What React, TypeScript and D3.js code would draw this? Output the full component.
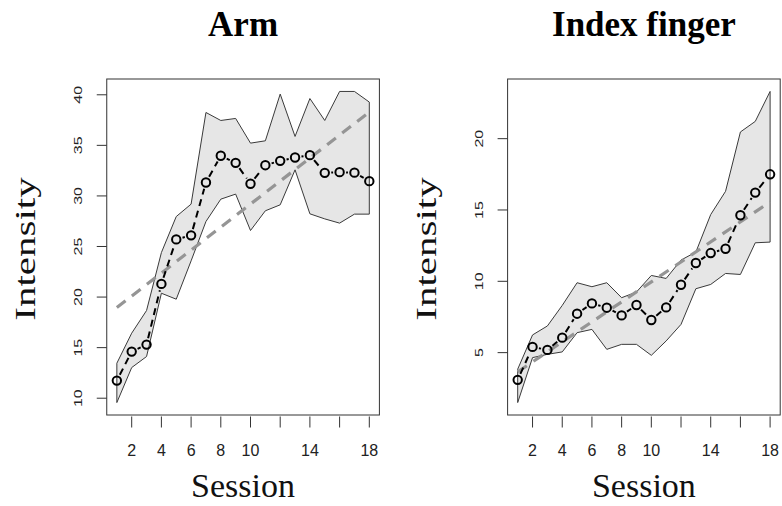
import React from "react";
import * as d3 from "d3";

const sessions = [1, 2, 3, 4, 5, 6, 7, 8, 9, 10, 11, 12, 13, 14, 15, 16, 17, 18];

const armMean = [11.74, 14.61, 15.3, 21.3, 25.7, 26.1, 31.33, 33.97, 33.27, 31.2, 33.04, 33.47, 33.8, 34.03, 32.28, 32.35, 32.3, 31.46];
const armUpper = [13.46, 16.43, 18.67, 24.4, 27.96, 29.19, 38.25, 37.46, 37.66, 35.22, 35.45, 40.07, 35.88, 39.63, 37.46, 40.33, 40.33, 39.28];
const armLower = [9.57, 13.03, 14.12, 20.38, 19.79, 23.58, 27.47, 29.68, 30.18, 26.58, 28.53, 29.12, 32.58, 28.23, 27.73, 27.31, 28.2, 28.2];
const armTrend = [18.96, 38.29];

const fingerMean = [3.09, 5.4, 5.19, 6.05, 7.73, 8.45, 8.15, 7.61, 8.34, 7.29, 8.17, 9.76, 11.28, 11.98, 12.28, 14.63, 16.22, 17.5];
const fingerUpper = [3.84, 6.24, 6.87, 8.31, 9.9, 9.62, 9.9, 8.85, 9.25, 10.41, 10.2, 11.49, 12.05, 14.68, 16.31, 20.47, 21.21, 23.31];
const fingerLower = [1.5, 4.65, 4.88, 5.05, 6.4, 6.63, 5.23, 5.58, 5.58, 4.81, 5.82, 6.98, 9.48, 9.78, 10.55, 10.48, 12.7, 12.75];
const fingerTrend = [3.65, 15.57];

const xTicks = [2, 4, 6, 8, 10, 12, 14, 16, 18];
const xTickLabels = ["2", "4", "6", "8", "10", "", "14", "", "18"];
const armYTicks = [10, 15, 20, 25, 30, 35, 40];
const fingerYTicks = [5, 10, 15, 20];

type PanelProps = {
  title: string;
  mean: number[];
  upper: number[];
  lower: number[];
  trend: number[];
  yTicks: number[];
  left: number;
  right: number;
};

const TOP = 79;
const BOTTOM = 415;

function padded(lo: number, hi: number): [number, number] {
  const p = (hi - lo) * 0.04;
  return [lo - p, hi + p];
}

function Panel({ title, mean, upper, lower, trend, yTicks, left, right }: PanelProps) {
  const xs = padded(d3.min(sessions)!, d3.max(sessions)!);
  const x = d3.scaleLinear().domain(xs).range([left, right]);
  const ys = padded(d3.min(lower)!, d3.max(upper)!);
  const y = d3.scaleLinear().domain(ys).range([BOTTOM, TOP]);

  const idx = sessions.map((_, i) => i);
  const area = d3
    .area<number>()
    .x((i) => x(sessions[i]))
    .y0((i) => y(lower[i]))
    .y1((i) => y(upper[i]));

  const gap = 6.5;
  const segs: { x1: number; y1: number; x2: number; y2: number }[] = [];
  for (let i = 0; i < sessions.length - 1; i++) {
    const ax = x(sessions[i]);
    const ay = y(mean[i]);
    const bx = x(sessions[i + 1]);
    const by = y(mean[i + 1]);
    const d = Math.hypot(bx - ax, by - ay);
    if (d > 2 * gap) {
      const ux = (bx - ax) / d;
      const uy = (by - ay) / d;
      segs.push({ x1: ax + ux * gap, y1: ay + uy * gap, x2: bx - ux * gap, y2: by - uy * gap });
    }
  }

  const s0 = sessions[0];
  const s1 = sessions[sessions.length - 1];
  const cx = (left + right) / 2;
  const cy = (TOP + BOTTOM) / 2;

  return (
    <g>
      <text x={cx} y={36} textAnchor="middle" fontFamily="'Liberation Serif', 'Times New Roman', serif" fontWeight="bold" fontSize={35} fill="#000">
        {title}
      </text>
      <path d={area(idx) || ""} fill="#e6e6e6" stroke="#3a3a3a" strokeWidth={1} />
      <line x1={x(s0)} y1={y(trend[0])} x2={x(s1)} y2={y(trend[1])} stroke="#959595" strokeWidth={3.2} strokeDasharray="11,8" />
      {segs.map((s, i) => (
        <line key={i} x1={s.x1} y1={s.y1} x2={s.x2} y2={s.y2} stroke="#000" strokeWidth={2} strokeDasharray="7,5" />
      ))}
      {sessions.map((s, i) => (
        <circle key={i} cx={x(s)} cy={y(mean[i])} r={4.2} fill="none" stroke="#000" strokeWidth={2} />
      ))}
      <rect x={left} y={TOP} width={right - left} height={BOTTOM - TOP} fill="none" stroke="#333" strokeWidth={1} />
      {xTicks.map((t, i) => (
        <g key={t}>
          <line x1={x(t)} x2={x(t)} y1={416.5} y2={427.5} stroke="#333" strokeWidth={1} />
          <text x={x(t)} y={456} textAnchor="middle" fontFamily="'Liberation Sans', Arial, sans-serif" fontSize={16} fill="#222">
            {xTickLabels[i]}
          </text>
        </g>
      ))}
      {yTicks.map((t) => (
        <g key={t}>
          <line x1={left - 10} x2={left} y1={y(t)} y2={y(t)} stroke="#333" strokeWidth={1} />
          <text transform={`translate(${left - 24.5},${y(t)}) rotate(-90) scale(1,0.74)`} textAnchor="middle" fontFamily="'Liberation Sans', Arial, sans-serif" fontSize={16} fill="#222">
            {t}
          </text>
        </g>
      ))}
      <text x={cx} y={497} textAnchor="middle" fontFamily="'Liberation Serif', 'Times New Roman', serif" fontSize={34} fill="#111">
        Session
      </text>
      <text transform={`translate(${left - 71.5},${cy + 2}) rotate(-90) scale(1,0.74)`} textAnchor="middle" fontFamily="'Liberation Serif', 'Times New Roman', serif" fontSize={41} fill="#111">
        Intensity
      </text>
    </g>
  );
}

export default function App() {
  return (
    <svg width={782} height={506} style={{ position: "absolute", left: 0, top: 0, background: "#fff" }}>
      <rect x={0} y={0} width={782} height={506} fill="#fff" />
      <Panel title="Arm" mean={armMean} upper={armUpper} lower={armLower} trend={armTrend} yTicks={armYTicks} left={106.75} right={379.4} />
      <Panel title="Index finger" mean={fingerMean} upper={fingerUpper} lower={fingerLower} trend={fingerTrend} yTicks={fingerYTicks} left={507.6} right={780.2} />
    </svg>
  );
}
